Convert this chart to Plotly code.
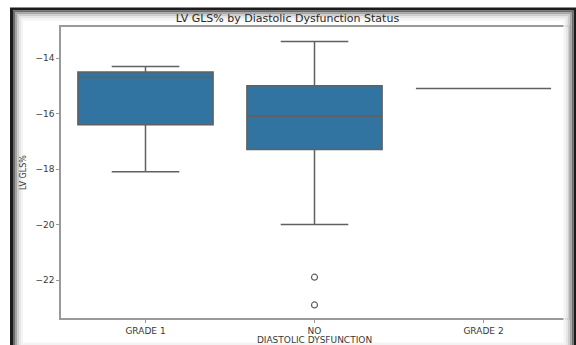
import plotly.graph_objects as go

# Diastolic dysfunction groups and LV GLS% box statistics
categories = ["GRADE 1", "NO", "GRADE 2"]
lower_whisker = [-18.1, -20.0, -15.1]
q1_values = [-16.4, -17.3, -15.1]
medians = [-14.7, -16.1, -15.1]
q3_values = [-14.5, -15.0, -15.1]
upper_whisker = [-14.3, -13.4, -15.1]

# Points beyond the whiskers
outlier_groups = ["NO", "NO"]
outlier_values = [-21.9, -22.9]

y_ticks = [-22, -20, -18, -16, -14]

W, H = 576, 345
ML, MR, MT, MB = 61, 8, 27, 27

def px(x):
    return (x - ML) / (W - ML - MR)

def py(y):
    return (H - MB - y) / (H - MT - MB)

box_fill = "#3274a1"
edge = "#606060"

fig = go.Figure()
fig.add_trace(go.Box(
    x=categories,
    q1=q1_values,
    median=medians,
    q3=q3_values,
    lowerfence=lower_whisker,
    upperfence=upper_whisker,
    fillcolor=box_fill,
    line=dict(color=edge, width=1.5),
    width=0.8,
    whiskerwidth=0.5,
    boxpoints=False,
    showlegend=False,
))
fig.add_trace(go.Scatter(
    x=outlier_groups,
    y=outlier_values,
    mode="markers",
    marker=dict(symbol="circle-open", size=6, color=edge, line=dict(width=1.2, color=edge)),
    showlegend=False,
))

# Picture frame with inner shadow around the chart
frame = [("#1c1c1c", 3, 0), ("#6a6a6a", 2, 2.5), ("#a5a5a5", 2, 4.5),
         ("#cdcdcd", 2, 6.5), ("#e6e6e6", 2, 8.5), ("#f4f4f4", 2, 10.5)]
shapes = []
for color, lw, inset in frame:
    shapes.append(dict(
        type="rect", xref="paper", yref="paper",
        x0=px(11.5 + inset), x1=px(575 - inset),
        y0=py(9 + inset), y1=py(354 - inset),
        line=dict(color=color, width=lw), fillcolor="rgba(0,0,0,0)",
        layer="above",
    ))

fig.update_layout(
    width=W, height=H,
    margin=dict(l=ML, r=MR, t=MT, b=MB, autoexpand=False),
    paper_bgcolor="white",
    plot_bgcolor="white",
    font=dict(family="DejaVu Sans", color="#333333"),
    title=dict(text="LV GLS% by Diastolic Dysfunction Status", x=px(314), xanchor="center",
               y=1 - 18 / H, yanchor="middle", font=dict(size=11, color="#2a2a2a")),
    shapes=shapes,
    xaxis=dict(
        type="category", categoryorder="array", categoryarray=categories,
        range=[-0.5, 2.5], automargin=False,
        showline=True, mirror=True, linecolor="#9a9a9a", linewidth=1.5,
        ticks="outside", ticklen=3, tickcolor="#9a9a9a",
        tickfont=dict(size=9, color="#3a3a3a"),
        showgrid=False, zeroline=False,
        title=dict(text="DIASTOLIC DYSFUNCTION", font=dict(size=9, color="#3a3a3a"), standoff=2),
    ),
    yaxis=dict(
        range=[-23.37, -12.88], automargin=False,
        tickvals=y_ticks, ticktext=["\u221222", "\u221220", "\u221218", "\u221216", "\u221214"],
        showline=True, mirror=True, linecolor="#9a9a9a", linewidth=1.5,
        ticks="outside", ticklen=3, tickcolor="#9a9a9a",
        tickfont=dict(size=9, color="#3a3a3a"),
        showgrid=False, zeroline=False,
        title=dict(text="LV GLS%", font=dict(size=8, color="#3a3a3a"), standoff=8),
    ),
)

fig.write_html("out.html")
